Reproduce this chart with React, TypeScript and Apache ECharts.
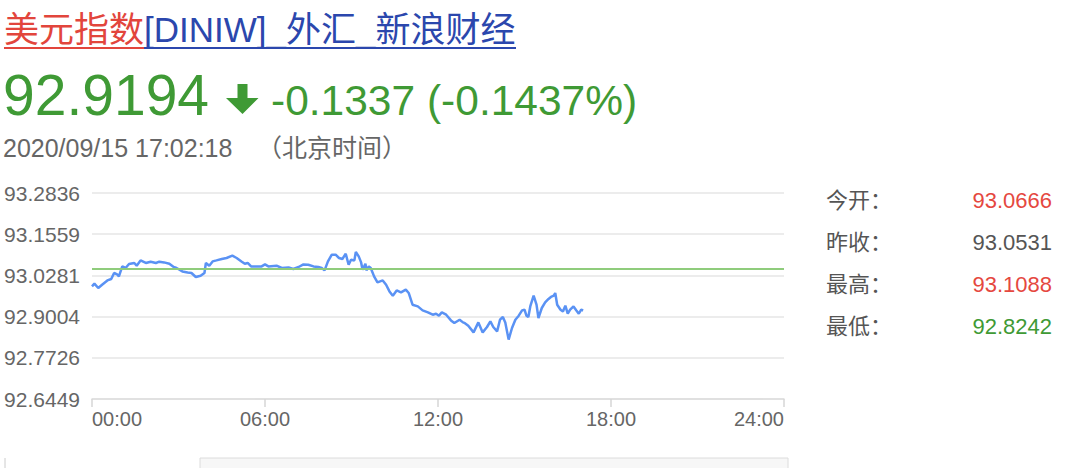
import React, { useEffect, useRef } from "react";
import * as echarts from "echarts";

// ---- data ----
const times: number[] = [0,5,13,21,32,40,46,53,56,63,70,77,88,93,101,112,122,133,140,150,161,170,176,188,199,207,216,226,234,237,244,251,259,270,280,292,301,311,318,324,331,343,353,360,367,384,395,409,419,430,440,450,461,471,478,484,491,499,507,514,521,528,534,539,546,549,555,560,563,569,571,576,580,587,594,605,612,619,626,634,643,653,659,667,678,688,699,709,716,722,728,737,747,754,765,772,776,783,794,804,813,822,829,835,843,849,855,860,867,874,881,888,895,900,904,908,912,919,925,929,936,943,950,955,961,964,968,975,980,985,990,995,1002,1008,1013,1018,1022];
const prices: number[] = [92.9940,93.0024,92.9891,92.9993,93.0126,93.0170,93.0356,93.0303,93.0250,93.0560,93.0511,93.0635,93.0666,93.0582,93.0746,93.0666,93.0706,93.0666,93.0706,93.0684,93.0644,93.0542,93.0511,93.0405,93.0374,93.0356,93.0232,93.0272,93.0356,93.0666,93.0582,93.0715,93.0746,93.0790,93.0821,93.0892,93.0821,93.0715,93.0644,93.0666,93.0560,93.0560,93.0560,93.0622,93.0560,93.0582,93.0511,93.0529,93.0480,93.0542,93.0622,93.0613,93.0560,93.0542,93.0511,93.0436,93.0715,93.0923,93.0923,93.0821,93.0790,93.0954,93.0613,93.0768,93.0746,93.1010,93.0870,93.0684,93.0458,93.0644,93.0436,93.0560,93.0511,93.0250,93.0064,93.0126,92.9993,92.9785,92.9652,92.9816,92.9754,92.9838,92.9736,92.9373,92.9320,92.9196,92.9134,92.9063,92.9094,92.9032,92.9134,92.9063,92.8886,92.8805,92.8908,92.8824,92.8800,92.8722,92.8514,92.8824,92.8514,92.8681,92.8855,92.8681,92.8545,92.8908,92.8992,92.8824,92.8290,92.8651,92.8908,92.9032,92.9196,92.9218,92.9032,92.8992,92.9320,92.9652,92.9373,92.8961,92.9271,92.9444,92.9550,92.9612,92.9652,92.9736,92.9373,92.9218,92.9165,92.9342,92.9094,92.9218,92.9320,92.9196,92.9094,92.9218,92.9194];
const prevClose = 93.0531;
const yTickValues: number[] = [92.6449, 92.7726, 92.9004, 93.0281, 93.1559, 93.2836];
const xTickLabels: string[] = ["00:00", "06:00", "12:00", "18:00", "24:00"];

const titleRed = "美元指数";
const titleBlue = "[DINIW]_外汇_新浪财经";
const lastPrice = "92.9194";
const changeText = "-0.1337 (-0.1437%)";
const dateText = "2020/09/15 17:02:18";
const tzText = "（北京时间）";
const statLabels: string[] = ["今开：", "昨收：", "最高：", "最低："];
const statValues: string[] = ["93.0666", "93.0531", "93.1088", "92.8242"];
const statColors: string[] = ["#e5483f", "#555555", "#e5483f", "#3f9a35"];

const FONT = "'Liberation Sans', Arial, 'Noto Sans CJK SC', sans-serif";
const GREEN = "#3f9a35";

function txt(x: number, y: number, text: string, size: number, fill: string, align = "left") {
  return {
    type: "text",
    x,
    y,
    silent: true,
    style: {
      text,
      fill,
      fontSize: size,
      fontFamily: FONT,
      align,
      textAlign: align,
      verticalAlign: "middle",
      textVerticalAlign: "middle",
    },
  };
}

export default function App() {
  const ref = useRef<HTMLDivElement>(null);
  useEffect(() => {
    if (!ref.current) return;
    const chart = echarts.init(ref.current, undefined, { renderer: "svg" });
    const data = times.map((t, i) => [t, prices[i]]);
    const graphics: any[] = [
      txt(4, 29, titleRed, 35, "#e2453c"),
      txt(144, 29, titleBlue, 35, "#2b47ad"),
      { type: "line", silent: true, shape: { x1: 4, y1: 48, x2: 144, y2: 48 }, style: { stroke: "#e2453c", lineWidth: 2 } },
      { type: "line", silent: true, shape: { x1: 144, y1: 48, x2: 516, y2: 48 }, style: { stroke: "#2b47ad", lineWidth: 2 } },
      txt(3, 95, lastPrice, 57, GREEN),
      {
        type: "polygon",
        silent: true,
        shape: { points: [[237.5, 84], [247.5, 84], [247.5, 98], [258.5, 98], [242.5, 114], [226, 98], [237.5, 98]] },
        style: { fill: GREEN },
      },
      txt(271, 100.5, changeText, 42.5, GREEN),
      txt(3, 148, dateText, 25, "#666666"),
      txt(257, 148, tzText, 25, "#666666"),
      { type: "rect", silent: true, shape: { x: 200, y: 458, width: 588, height: 14 }, style: { fill: "#f7f7f7", stroke: "#dcdcdc", lineWidth: 1 } },
      { type: "line", silent: true, shape: { x1: 5, y1: 458, x2: 5, y2: 468 }, style: { stroke: "#cccccc", lineWidth: 1 } },
    ];
    statLabels.forEach((l, i) => {
      const y = 200 + i * 42.3;
      graphics.push(txt(826, y, l, 22, "#555555"));
      graphics.push(txt(1052, y, statValues[i], 22, statColors[i], "right"));
    });

    chart.setOption({
      animation: false,
      textStyle: { fontFamily: FONT },
      grid: { left: 92, top: 193, width: 692, height: 206, containLabel: false },
      xAxis: {
        type: "value",
        min: 0,
        max: 1440,
        interval: 360,
        axisLine: { show: true, lineStyle: { color: "#dddddd", width: 1.5 } },
        axisTick: { show: true, length: 8, lineStyle: { color: "#d6d6d6", width: 1.5 } },
        splitLine: { show: false },
        axisLabel: {
          color: "#666666",
          fontSize: 20,
          margin: 10,
          fontFamily: FONT,
          alignMinLabel: "left",
          alignMaxLabel: "right",
          formatter: (v: number) => xTickLabels[Math.round(v / 360)] ?? "",
        },
      },
      yAxis: {
        type: "value",
        min: yTickValues[0],
        max: yTickValues[yTickValues.length - 1],
        axisLine: { show: false },
        axisTick: { show: false, customValues: yTickValues },
        splitLine: { show: true, lineStyle: { color: "#e6e6e6", width: 1.5 } },
        axisLabel: {
          customValues: yTickValues,
          color: "#666666",
          fontSize: 21,
          margin: 12,
          fontFamily: FONT,
          formatter: (v: number) => v.toFixed(4),
        },
      },
      series: [
        {
          type: "line",
          data,
          showSymbol: false,
          symbol: "none",
          lineStyle: { color: "#5a92f4", width: 2.5 },
          markLine: {
            silent: true,
            symbol: ["none", "none"],
            label: { show: false },
            lineStyle: { color: "#8fcc7c", width: 2, type: "solid" },
            data: [{ yAxis: prevClose }],
          },
          z: 3,
        },
      ],
      graphic: graphics,
    });
    return () => chart.dispose();
  }, []);
  return <div ref={ref} style={{ position: "absolute", left: 0, top: 0, width: 1080, height: 468 }} />;
}
